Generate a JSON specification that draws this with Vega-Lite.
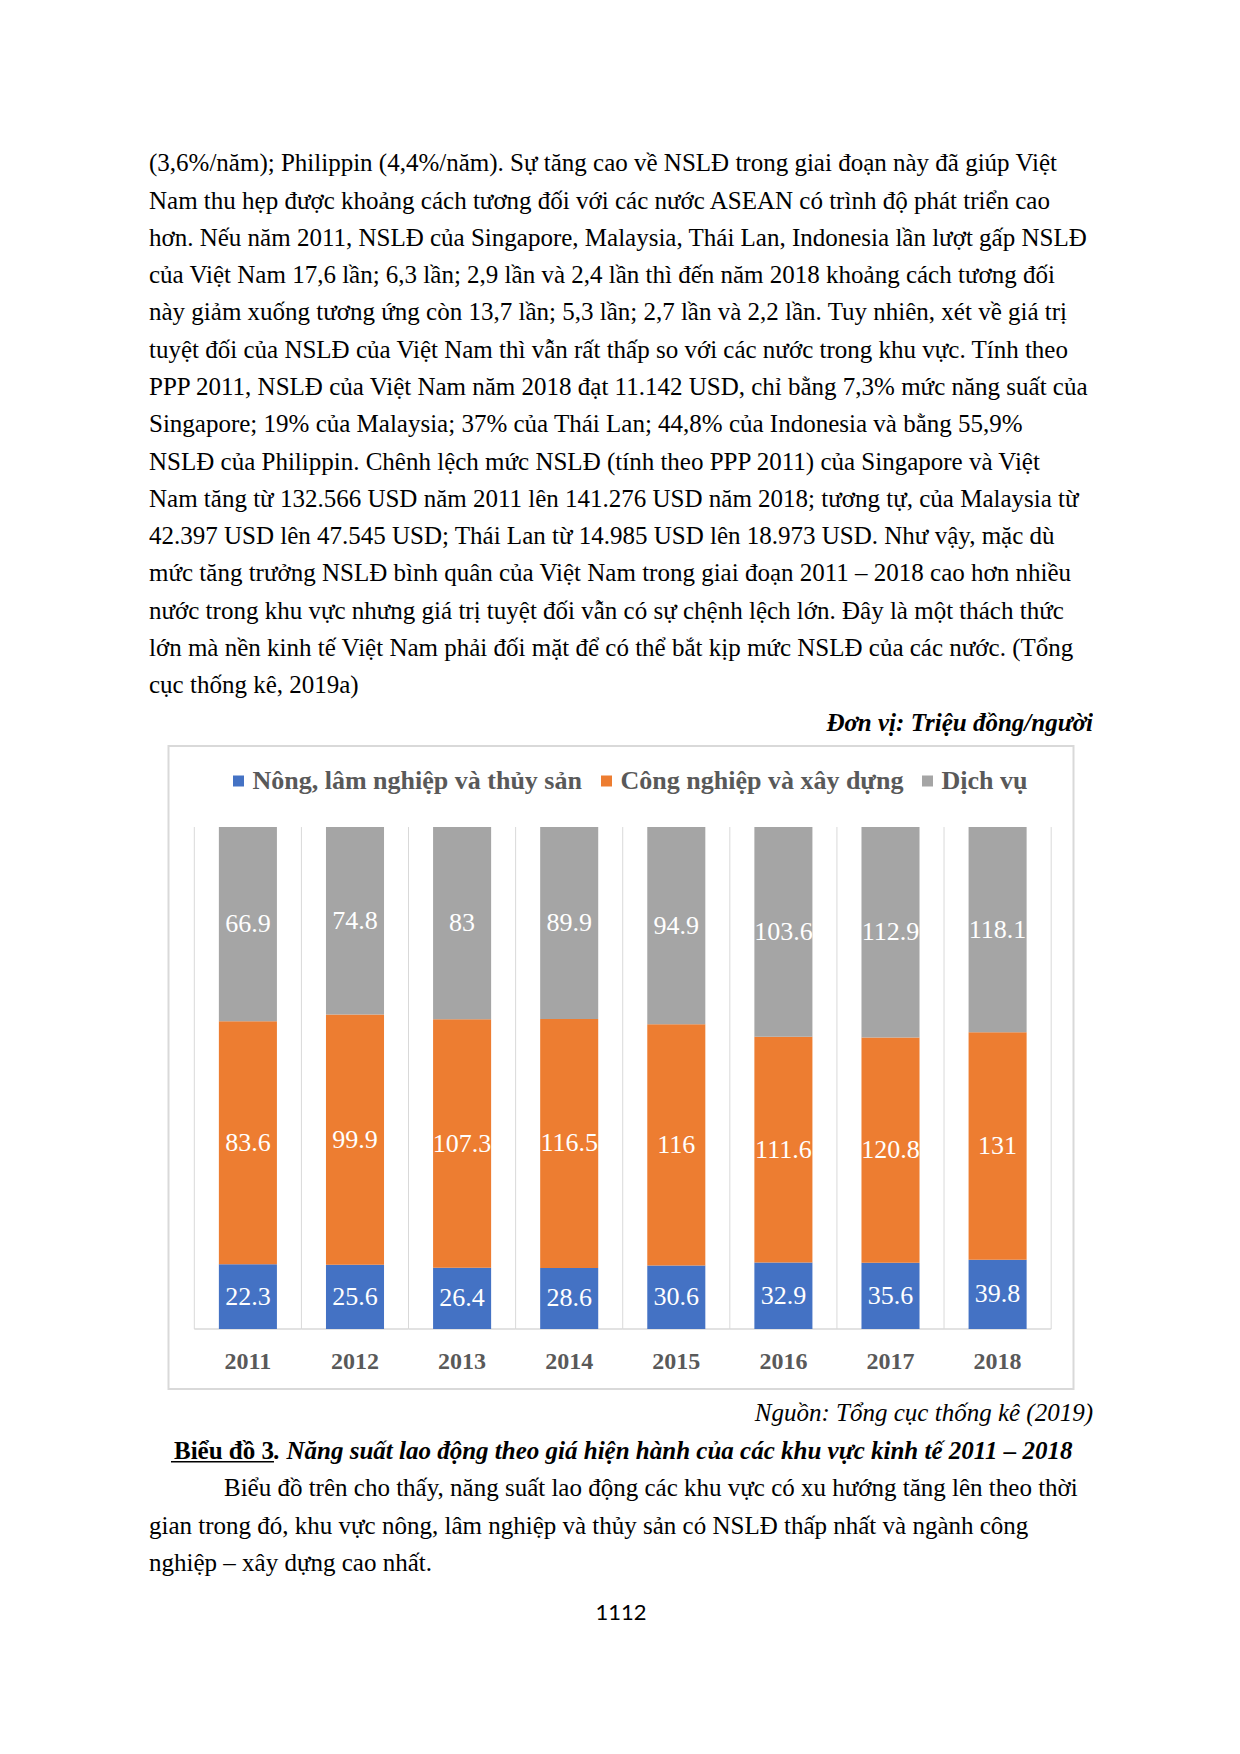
{
  "$schema": "https://vega.github.io/schema/vega-lite/v6.json",
  "background": "white",
  "padding": {"left": 149, "top": 126, "right": 0, "bottom": 0},
  "autosize": {"type": "pad"},
  "bounds": "flush",
  "center": true,
  "spacing": 20,
  "resolve": {"legend": {"color": "independent"}},
  "config": {"view": {"stroke": null}, "font": "Liberation Serif"},
  "datasets": {
    "nsld": [
      {"nam": "2011", "khu_vuc": "Nông, lâm nghiệp và thủy sản", "stt": 1, "gia_tri": 22.3},
      {"nam": "2011", "khu_vuc": "Công nghiệp và xây dựng", "stt": 2, "gia_tri": 83.6},
      {"nam": "2011", "khu_vuc": "Dịch vụ", "stt": 3, "gia_tri": 66.9},
      {"nam": "2012", "khu_vuc": "Nông, lâm nghiệp và thủy sản", "stt": 1, "gia_tri": 25.6},
      {"nam": "2012", "khu_vuc": "Công nghiệp và xây dựng", "stt": 2, "gia_tri": 99.9},
      {"nam": "2012", "khu_vuc": "Dịch vụ", "stt": 3, "gia_tri": 74.8},
      {"nam": "2013", "khu_vuc": "Nông, lâm nghiệp và thủy sản", "stt": 1, "gia_tri": 26.4},
      {"nam": "2013", "khu_vuc": "Công nghiệp và xây dựng", "stt": 2, "gia_tri": 107.3},
      {"nam": "2013", "khu_vuc": "Dịch vụ", "stt": 3, "gia_tri": 83},
      {"nam": "2014", "khu_vuc": "Nông, lâm nghiệp và thủy sản", "stt": 1, "gia_tri": 28.6},
      {"nam": "2014", "khu_vuc": "Công nghiệp và xây dựng", "stt": 2, "gia_tri": 116.5},
      {"nam": "2014", "khu_vuc": "Dịch vụ", "stt": 3, "gia_tri": 89.9},
      {"nam": "2015", "khu_vuc": "Nông, lâm nghiệp và thủy sản", "stt": 1, "gia_tri": 30.6},
      {"nam": "2015", "khu_vuc": "Công nghiệp và xây dựng", "stt": 2, "gia_tri": 116},
      {"nam": "2015", "khu_vuc": "Dịch vụ", "stt": 3, "gia_tri": 94.9},
      {"nam": "2016", "khu_vuc": "Nông, lâm nghiệp và thủy sản", "stt": 1, "gia_tri": 32.9},
      {"nam": "2016", "khu_vuc": "Công nghiệp và xây dựng", "stt": 2, "gia_tri": 111.6},
      {"nam": "2016", "khu_vuc": "Dịch vụ", "stt": 3, "gia_tri": 103.6},
      {"nam": "2017", "khu_vuc": "Nông, lâm nghiệp và thủy sản", "stt": 1, "gia_tri": 35.6},
      {"nam": "2017", "khu_vuc": "Công nghiệp và xây dựng", "stt": 2, "gia_tri": 120.8},
      {"nam": "2017", "khu_vuc": "Dịch vụ", "stt": 3, "gia_tri": 112.9},
      {"nam": "2018", "khu_vuc": "Nông, lâm nghiệp và thủy sản", "stt": 1, "gia_tri": 39.8},
      {"nam": "2018", "khu_vuc": "Công nghiệp và xây dựng", "stt": 2, "gia_tri": 131},
      {"nam": "2018", "khu_vuc": "Dịch vụ", "stt": 3, "gia_tri": 118.1}
    ],
    "dong_tren": [
      {"dong": 1, "loai": "doan", "noi_dung": "(3,6%/năm); Philippin (4,4%/năm). Sự tăng cao về NSLĐ trong giai đoạn này đã giúp Việt"},
      {"dong": 2, "loai": "doan", "noi_dung": "Nam thu hẹp được khoảng cách tương đối với các nước ASEAN có trình độ phát triển cao"},
      {"dong": 3, "loai": "doan", "noi_dung": "hơn. Nếu năm 2011, NSLĐ của Singapore, Malaysia, Thái Lan, Indonesia lần lượt gấp NSLĐ"},
      {"dong": 4, "loai": "doan", "noi_dung": "của Việt Nam 17,6 lần; 6,3 lần; 2,9 lần và 2,4 lần thì đến năm 2018 khoảng cách tương đối"},
      {"dong": 5, "loai": "doan", "noi_dung": "này giảm xuống tương ứng còn 13,7 lần; 5,3 lần; 2,7 lần và 2,2 lần. Tuy nhiên, xét về giá trị"},
      {"dong": 6, "loai": "doan", "noi_dung": "tuyệt đối của NSLĐ của Việt Nam thì vẫn rất thấp so với các nước trong khu vực. Tính theo"},
      {"dong": 7, "loai": "doan", "noi_dung": "PPP 2011, NSLĐ của Việt Nam năm 2018 đạt 11.142 USD, chỉ bằng 7,3% mức năng suất của"},
      {"dong": 8, "loai": "doan", "noi_dung": "Singapore; 19% của Malaysia; 37% của Thái Lan; 44,8% của Indonesia và bằng 55,9%"},
      {"dong": 9, "loai": "doan", "noi_dung": "NSLĐ của Philippin. Chênh lệch mức NSLĐ (tính theo PPP 2011) của Singapore và Việt"},
      {"dong": 10, "loai": "doan", "noi_dung": "Nam tăng từ 132.566 USD năm 2011 lên 141.276 USD năm 2018; tương tự, của Malaysia từ"},
      {"dong": 11, "loai": "doan", "noi_dung": "42.397 USD lên 47.545 USD; Thái Lan từ 14.985 USD lên 18.973 USD. Như vậy, mặc dù"},
      {"dong": 12, "loai": "doan", "noi_dung": "mức tăng trưởng NSLĐ bình quân của Việt Nam trong giai đoạn 2011 – 2018 cao hơn nhiều"},
      {"dong": 13, "loai": "doan", "noi_dung": "nước trong khu vực nhưng giá trị tuyệt đối vẫn có sự chệnh lệch lớn. Đây là một thách thức"},
      {"dong": 14, "loai": "doan", "noi_dung": "lớn mà nền kinh tế Việt Nam phải đối mặt để có thể bắt kịp mức NSLĐ của các nước. (Tổng"},
      {"dong": 15, "loai": "doan", "noi_dung": "cục thống kê, 2019a)"},
      {"dong": 16, "loai": "donvi", "noi_dung": "Đơn vị: Triệu đồng/người"}
    ],
    "dong_duoi": [
      {"dong": 1, "loai": "nguon", "noi_dung": "Nguồn: Tổng cục thống kê (2019)"},
      {"dong": 2, "loai": "bieudo", "noi_dung": "Biểu đồ 3"},
      {"dong": 2, "loai": "tieude", "noi_dung": ". Năng suất lao động theo giá hiện hành của các khu vực kinh tế 2011 – 2018"},
      {"dong": 3, "loai": "dau", "noi_dung": "Biểu đồ trên cho thấy, năng suất lao động các khu vực có xu hướng tăng lên theo thời"},
      {"dong": 4, "loai": "doan", "noi_dung": "gian trong đó, khu vực nông, lâm nghiệp và thủy sản có NSLĐ thấp nhất và ngành công"},
      {"dong": 5, "loai": "doan", "noi_dung": "nghiệp – xây dựng cao nhất."},
      {"dong": 6, "loai": "trang", "noi_dung": "1112"}
    ]
  },
  "vconcat": [
    {
      "width": 944,
      "height": 600,
      "data": {"name": "dong_tren"},
      "layer": [
        {
          "transform": [{"filter": "datum.loai == 'doan'"}],
          "mark": {"type": "text", "align": "left", "baseline": "middle", "fontSize": 25, "font": "Liberation Serif", "color": "#000000"},
          "encoding": {
            "x": {"datum": 0, "type": "quantitative", "scale": {"domain": [0, 1]}, "axis": null},
            "y": {"field": "dong", "type": "quantitative", "scale": {"domain": [0, 16.09], "reverse": true}, "axis": null},
            "text": {"field": "noi_dung", "type": "nominal"}
          }
        },
        {
          "transform": [{"filter": "datum.loai == 'donvi'"}],
          "mark": {"type": "text", "align": "right", "baseline": "middle", "fontSize": 25, "font": "Liberation Serif", "fontStyle": "italic", "fontWeight": "bold", "color": "#000000"},
          "encoding": {
            "x": {"datum": 1, "type": "quantitative", "scale": {"domain": [0, 1]}, "axis": null},
            "y": {"field": "dong", "type": "quantitative", "scale": {"domain": [0, 16.09], "reverse": true}, "axis": null},
            "text": {"field": "noi_dung", "type": "nominal"}
          }
        }
      ]
    },
    {
      "width": 905,
      "height": 643,
      "view": {"stroke": "#d9d9d9", "strokeWidth": 2},
      "data": {"name": "nsld"},
      "layer": [
        {
          "transform": [{"filter": "datum.stt == 1"}],
          "mark": {"type": "rule", "color": "#d9d9d9", "strokeWidth": 1},
          "encoding": {
            "x": {"field": "nam", "type": "nominal", "bandPosition": -0.423, "scale": {"type": "band", "paddingInner": 0.458, "paddingOuter": 0.454, "align": 0.518}, "axis": null},
            "y": {"datum": 0, "type": "quantitative", "scale": {"domain": [-0.1195, 1.1614], "nice": false, "zero": false}, "axis": null},
            "y2": {"datum": 1}
          }
        },
        {
          "transform": [{"filter": "datum.stt == 1 && datum.nam == '2018'"}],
          "mark": {"type": "rule", "color": "#d9d9d9", "strokeWidth": 1},
          "encoding": {
            "x": {"field": "nam", "type": "nominal", "bandPosition": 1.423, "axis": null},
            "y": {"datum": 0, "type": "quantitative", "axis": null},
            "y2": {"datum": 1}
          }
        },
        {
          "transform": [{"filter": "datum.stt == 1"}],
          "mark": {"type": "rule", "color": "#d9d9d9", "strokeWidth": 1.5},
          "encoding": {
            "x": {"field": "nam", "type": "nominal", "bandPosition": -0.423, "axis": null},
            "x2": {"field": "nam", "bandPosition": 1.423},
            "y": {"datum": 0, "type": "quantitative", "axis": null}
          }
        },
        {
          "mark": {"type": "bar"},
          "encoding": {
            "x": {"field": "nam", "type": "nominal", "axis": null},
            "y": {"field": "gia_tri", "type": "quantitative", "stack": "normalize", "scale": {"domain": [-0.1195, 1.1614], "nice": false, "zero": false}, "axis": null},
            "order": {"field": "stt", "type": "quantitative", "sort": "ascending"},
            "color": {
              "field": "khu_vuc",
              "type": "nominal",
              "scale": {
                "domain": ["Nông, lâm nghiệp và thủy sản", "Công nghiệp và xây dựng", "Dịch vụ"],
                "range": ["#4472c4", "#ed7d31", "#a5a5a5"]
              },
              "legend": {
                "title": null,
                "orient": "none",
                "legendX": 57,
                "legendY": 22,
                "direction": "horizontal",
                "symbolType": "square",
                "symbolSize": 121,
                "symbolStrokeWidth": 0,
                "labelFont": "Liberation Serif",
                "labelFontSize": 26,
                "labelFontWeight": "bold",
                "labelColor": "#595959",
                "labelOffset": 1,
                "columnPadding": 11,
                "labelLimit": 500
              }
            }
          }
        },
        {
          "mark": {"type": "text", "color": "white", "fontSize": 26, "font": "Liberation Serif", "baseline": "middle", "align": "center"},
          "encoding": {
            "x": {"field": "nam", "type": "nominal", "axis": null},
            "y": {"field": "gia_tri", "type": "quantitative", "stack": "normalize", "bandPosition": 0.5, "axis": null},
            "order": {"field": "stt", "type": "quantitative", "sort": "ascending"},
            "text": {"field": "gia_tri", "type": "quantitative"}
          }
        },
        {
          "transform": [{"filter": "datum.stt == 1"}],
          "mark": {"type": "text", "color": "#595959", "fontSize": 24, "fontWeight": "bold", "font": "Liberation Serif", "baseline": "middle", "align": "center"},
          "encoding": {
            "x": {"field": "nam", "type": "nominal", "axis": null},
            "y": {"datum": -0.0657, "type": "quantitative", "axis": null},
            "text": {"field": "nam", "type": "nominal"}
          }
        }
      ]
    },
    {
      "width": 944,
      "height": 240,
      "data": {"name": "dong_duoi"},
      "encoding": {
        "y": {"field": "dong", "type": "quantitative", "scale": {"domain": [0.893, 7.293], "reverse": true}, "axis": null}
      },
      "layer": [
        {
          "transform": [{"filter": "datum.loai == 'nguon'"}],
          "mark": {"type": "text", "align": "right", "baseline": "middle", "fontSize": 25, "font": "Liberation Serif", "fontStyle": "italic", "color": "#000000"},
          "encoding": {
            "x": {"datum": 1, "type": "quantitative", "scale": {"domain": [0, 1]}, "axis": null},
            "text": {"field": "noi_dung", "type": "nominal"}
          }
        },
        {
          "transform": [{"filter": "datum.loai == 'bieudo'"}],
          "mark": {"type": "text", "align": "right", "baseline": "middle", "fontSize": 25, "font": "Liberation Serif", "fontWeight": "bold", "color": "#000000"},
          "encoding": {
            "x": {"datum": 0.1324, "type": "quantitative", "axis": null},
            "text": {"field": "noi_dung", "type": "nominal"}
          }
        },
        {
          "transform": [{"filter": "datum.loai == 'bieudo'"}],
          "mark": {"type": "rule", "color": "#000000", "strokeWidth": 1.5},
          "encoding": {
            "x": {"datum": 0.0233, "type": "quantitative", "axis": null},
            "x2": {"datum": 0.1324},
            "y": {"datum": 2.3, "type": "quantitative", "axis": null}
          }
        },
        {
          "transform": [{"filter": "datum.loai == 'tieude'"}],
          "mark": {"type": "text", "align": "left", "baseline": "middle", "fontSize": 25, "font": "Liberation Serif", "fontWeight": "bold", "fontStyle": "italic", "color": "#000000"},
          "encoding": {
            "x": {"datum": 0.1324, "type": "quantitative", "axis": null},
            "text": {"field": "noi_dung", "type": "nominal"}
          }
        },
        {
          "transform": [{"filter": "datum.loai == 'dau'"}],
          "mark": {"type": "text", "align": "left", "baseline": "middle", "fontSize": 25, "font": "Liberation Serif", "color": "#000000"},
          "encoding": {
            "x": {"datum": 0.0794, "type": "quantitative", "axis": null},
            "text": {"field": "noi_dung", "type": "nominal"}
          }
        },
        {
          "transform": [{"filter": "datum.loai == 'doan'"}],
          "mark": {"type": "text", "align": "left", "baseline": "middle", "fontSize": 25, "font": "Liberation Serif", "color": "#000000"},
          "encoding": {
            "x": {"datum": 0, "type": "quantitative", "axis": null},
            "text": {"field": "noi_dung", "type": "nominal"}
          }
        },
        {
          "transform": [{"filter": "datum.loai == 'trang'"}],
          "mark": {"type": "text", "align": "center", "baseline": "middle", "fontSize": 22, "font": "Lato", "color": "#000000", "dy": 12},
          "encoding": {
            "x": {"datum": 0.5, "type": "quantitative", "axis": null},
            "text": {"field": "noi_dung", "type": "nominal"}
          }
        }
      ]
    }
  ]
}
